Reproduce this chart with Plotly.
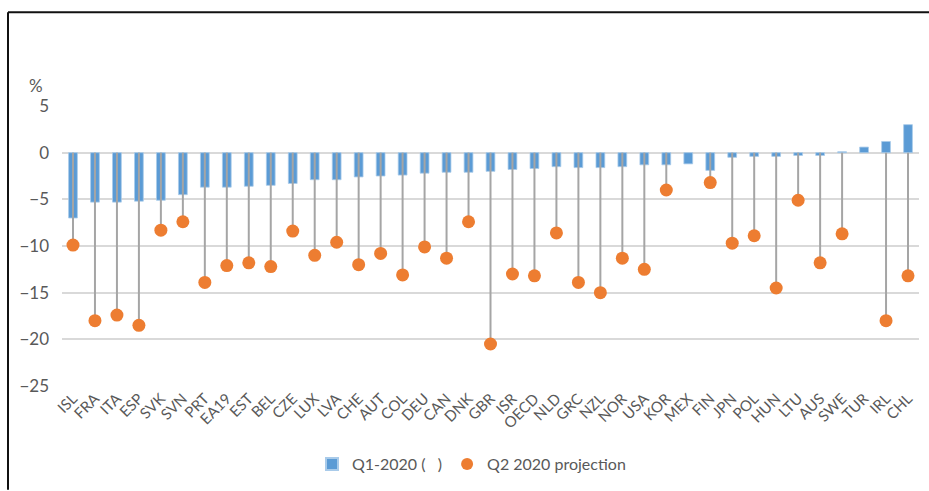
import plotly.graph_objects as go

# Country codes along the category axis
countries = ["ISL", "FRA", "ITA", "ESP", "SVK", "SVN", "PRT", "EA19", "EST", "BEL",
             "CZE", "LUX", "LVA", "CHE", "AUT", "COL", "DEU", "CAN", "DNK", "GBR",
             "ISR", "OECD", "NLD", "GRC", "NZL", "NOR", "USA", "KOR", "MEX", "FIN",
             "JPN", "POL", "HUN", "LTU", "AUS", "SWE", "TUR", "IRL", "CHL"]

# Q1 2020 GDP growth, % q-o-q
q1_2020 = [-7.0, -5.3, -5.3, -5.2, -5.1, -4.5, -3.7, -3.7, -3.6, -3.5,
           -3.3, -2.9, -2.9, -2.6, -2.5, -2.4, -2.2, -2.1, -2.1, -2.0,
           -1.8, -1.7, -1.5, -1.6, -1.6, -1.5, -1.3, -1.3, -1.2, -1.9,
           -0.5, -0.4, -0.4, -0.3, -0.3, 0.1, 0.6, 1.2, 3.0]

# Q2 2020 projection (None where no projection is shown)
q2_2020 = [-9.9, -18.0, -17.4, -18.5, -8.3, -7.4, -13.9, -12.1, -11.8, -12.2,
           -8.4, -11.0, -9.6, -12.0, -10.8, -13.1, -10.1, -11.3, -7.4, -20.5,
           -13.0, -13.2, -8.6, -13.9, -15.0, -11.3, -12.5, -4.0, None, -3.2,
           -9.7, -8.9, -14.5, -5.1, -11.8, -8.7, None, -18.0, -13.2]

W, H = 929, 491
L, R, T, B = 62, 10, 106.5, 102.5
pw, ph = W - L - R, H - T - B

def px_x(x):
    return (x - L) / pw

def px_y(y):
    return (H - B - y) / ph

# Drop lines from zero to each projection point
stem_x, stem_y = [], []
for c, v in zip(countries, q2_2020):
    if v is None:
        continue
    stem_x += [c, c, None]
    stem_y += [0, v, None]

text_col = "#595959"
font_family = "Lato, Carlito, Calibri, sans-serif"

fig = go.Figure()
fig.add_trace(go.Bar(
    x=countries, y=q1_2020, name="Q1-2020 (   )",
    marker=dict(color="#5B9BD5", line=dict(color="#A9CBEA", width=0.8)),
))
fig.add_trace(go.Scatter(
    x=stem_x, y=stem_y, mode="lines", showlegend=False, hoverinfo="skip",
    line=dict(color="#A5A5A5", width=2),
))
fig.add_trace(go.Scatter(
    x=countries, y=q2_2020, mode="markers", name="Q2 2020 projection",
    marker=dict(color="#ED7D31", size=13, line=dict(width=0)),
))

fig.update_layout(
    width=W, height=H,
    margin=dict(l=L, r=R, t=T, b=B),
    plot_bgcolor="white", paper_bgcolor="white",
    bargap=0.6,
    font=dict(family=font_family, color=text_col),
    legend=dict(
        orientation="h", x=px_x(312), y=px_y(450), xanchor="left", yanchor="top",
        font=dict(size=16, color=text_col), itemsizing="constant",
        traceorder="normal", bgcolor="rgba(0,0,0,0)",
    ),
    shapes=[
        dict(type="line", xref="paper", yref="paper",
             x0=px_x(8), x1=px_x(8), y0=px_y(12), y1=px_y(H + 2),
             line=dict(color="#111111", width=2)),
        dict(type="line", xref="paper", yref="paper",
             x0=px_x(8), x1=px_x(W + 2), y0=px_y(12), y1=px_y(12),
             line=dict(color="#111111", width=2)),
    ],
    annotations=[
        dict(text="%", xref="paper", yref="paper", x=px_x(36), y=px_y(86),
             xanchor="center", yanchor="middle", showarrow=False,
             font=dict(size=17, color=text_col)),
    ],
)
fig.update_xaxes(
    type="category", range=[-0.5, len(countries) - 0.5],
    tickangle=-45, showgrid=False, showline=False,
    tickfont=dict(size=15, color=text_col), ticks="",
)
fig.update_yaxes(
    range=[-25, 5], dtick=5, showgrid=True, gridcolor="#D9D9D9", gridwidth=2,
    zeroline=False, showline=False, ticks="",
    tickfont=dict(size=17, color=text_col), ticklabelstandoff=12,
)

fig.write_html("out.html")
